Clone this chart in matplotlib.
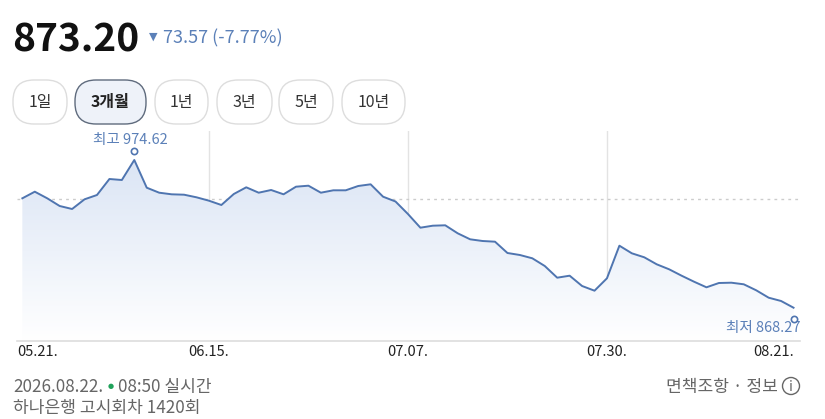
import matplotlib.pyplot as plt
import numpy as np
from matplotlib.patches import FancyBboxPatch, Circle
from matplotlib.colors import LinearSegmentedColormap
from matplotlib.transforms import ScaledTranslation

plt.rcParams['font.family'] = ['Noto Sans CJK KR', 'DejaVu Sans']

# data (3 months of daily values)
prices = [947.04, 951.80, 947.04, 941.50, 939.34, 946.32, 949.42, 960.94, 960.22, 974.62,
          954.68, 951.08, 949.92, 949.64, 947.76, 945.32, 942.22, 950.14, 954.96, 951.08,
          953.02, 949.92, 955.40, 956.12, 951.08, 952.80, 952.80, 955.90, 957.12, 948.20,
          944.74, 935.74, 925.88, 927.32, 927.60, 921.84, 917.52, 916.30, 915.80, 907.66,
          906.22, 903.84, 898.30, 889.88, 891.32, 883.90, 880.52, 889.44, 912.92, 907.44,
          904.56, 899.52, 895.92, 891.32, 887.00, 882.96, 886.06, 886.28, 885.12, 880.80,
          875.48, 873.10, 868.27]
tick_idx = [0, 15, 31, 47, 62]
tick_labels = ['05.21.', '06.15.', '07.07.', '07.30.', '08.21.']
prev_close = 946.77
current = "873.20"
change = "73.57 (-7.77%)"
periods = ['1일', '3개월', '1년', '3년', '5년', '10년']

W, H = 825, 419
fig = plt.figure(figsize=(W / 100, H / 100), dpi=100)
fig.patch.set_facecolor('white')

# overlay in pixel units for header / footer
bg = fig.add_axes([0, 0, 1, 1])
bg.set_xlim(0, W)
bg.set_ylim(H, 0)
bg.axis('off')

line_col = '#4f75b0'
lab_col = '#5b80b8'

# header
bg.text(12, 40, current, fontsize=28, fontweight='bold', color='#111111', va='center')
bg.text(149, 37, '▼', fontsize=8, color=lab_col, va='center', family=['DejaVu Sans'])
bg.text(163, 38, change, fontsize=13, color=lab_col, va='center')

# period buttons
btn_x = [(13, 67), (75, 146), (155, 208), (217, 272), (279, 333), (342, 405)]
for (x0, x1), lab in zip(btn_x, periods):
    sel = lab == '3개월'
    p = FancyBboxPatch((x0, 80), x1 - x0, 44, boxstyle='round,pad=0,rounding_size=21',
                       facecolor='#eef2f9' if sel else 'white',
                       edgecolor='#5f6b7d' if sel else '#dddddd', linewidth=1.0)
    bg.add_patch(p)
    bg.text((x0 + x1) / 2, 102, lab, fontsize=11.5, ha='center', va='center',
            color='#222222' if sel else '#333333', fontweight='bold' if sel else 'normal')

# footer
bg.text(13, 387, '2026.08.22.', fontsize=12.3, color='#666666', va='center')
bg.text(108, 386, '●', fontsize=5, color='#1fa25a', va='center', family=['DejaVu Sans'])
bg.text(118, 387, '08:50 실시간', fontsize=12.3, color='#666666', va='center')
bg.text(13, 408, '하나은행 고시회차 1420회', fontsize=12.3, color='#666666', va='center')
bg.text(778, 387, '면책조항 · 정보', fontsize=12.3, color='#666666', va='center', ha='right')
bg.add_patch(Circle((791, 386), 8.5, facecolor='white', edgecolor='#666666', lw=1))
bg.text(791, 386.5, 'i', fontsize=10, color='#666666', va='center', ha='center')

# chart
ax = fig.add_axes([17 / W, 1 - 341 / H, 783 / W, 210 / H])
ax.patch.set_alpha(0)
x = np.arange(len(prices))
y = np.array(prices)
ax.set_xlim(-0.43, 62.52)
ax.set_ylim(844.3, 995.5)

cmap = LinearSegmentedColormap.from_list('g', ['#ffffff', '#dbe5f5'])
grad = np.linspace(0, 1, 256).reshape(-1, 1)
im = ax.imshow(grad, cmap=cmap, aspect='auto', origin='lower',
               extent=[0, 62, 844.3, max(prices)], zorder=1)
poly = ax.fill_between(x, y, 844.3, facecolor='none', edgecolor='none')
im.set_clip_path(poly.get_paths()[0], transform=ax.transData)

for t in tick_idx[1:-1]:
    ax.axvline(t, color='#e3e3e3', lw=1, zorder=0.5)
ax.axhline(prev_close, color='#cccccc', lw=1, ls=(0, (2, 3)), zorder=0.6)

ax.plot(x, y, color=line_col, lw=1.4, zorder=3)

imax = int(np.argmax(y))
imin = int(np.argmin(y))
ax.plot(imax, y[imax] + 6.3, 'o', ms=4.5, mfc='white', mec=line_col, mew=1.2, zorder=4)
ax.plot(imin, y[imin] - 8.2, 'o', ms=4.5, mfc='white', mec=line_col, mew=1.2, zorder=4)
ax.text(imax - 0.3, y[imax] + 14.5, f'최고 {y[imax]:.2f}', fontsize=10.5, color=lab_col,
        ha='center', va='center')
ax.text(62.55, y[imin] - 14.8, f'최저 {y[imin]:.2f}', fontsize=10.5, color=lab_col,
        ha='right', va='center')

for s in ['top', 'left', 'right']:
    ax.spines[s].set_visible(False)
ax.spines['bottom'].set_color('#dddddd')
ax.spines['bottom'].set_linewidth(1.2)
ax.set_yticks([])
ax.set_xticks(tick_idx)
ax.set_xticklabels(tick_labels, fontsize=10.5, color='#222222')
ax.tick_params(axis='x', length=0, pad=3)
lbls = ax.get_xticklabels()
lbls[0].set_ha('left')
lbls[-1].set_ha('right')
lbls[0].set_transform(lbls[0].get_transform() + ScaledTranslation(-5 / 100, 0, fig.dpi_scale_trans))

fig.savefig('out.png', dpi=100)
